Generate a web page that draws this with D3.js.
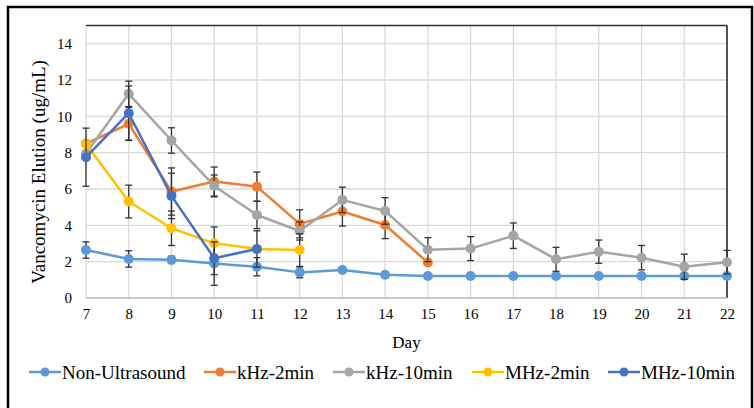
<!DOCTYPE html>
<html>
<head>
<meta charset="utf-8">
<script src="https://cdn.jsdelivr.net/npm/d3@7"></script>
<style>
  html, body { margin: 0; padding: 0; background: #fff; }
  svg { display: block; }
  text { font-family: "Liberation Serif", "Times New Roman", serif; fill: #000; }
</style>
</head>
<body>
<svg id="chart" width="754" height="408"></svg>
<script>
// ---- data ----
const days = [7, 8, 9, 10, 11, 12, 13, 14, 15, 16, 17, 18, 19, 20, 21, 22];
const yTicks = [0, 2, 4, 6, 8, 10, 12, 14];
const seriesNames = ["Non-Ultrasound", "kHz-2min", "kHz-10min", "MHz-2min", "MHz-10min"];
const seriesColors = ["#5B9BD5", "#ED7D31", "#A5A5A5", "#FFC000", "#4472C4"];

const nonUltrasound = [2.64, 2.15, 2.1, 1.9, 1.72, 1.41, 1.54, 1.28, 1.21, 1.21, 1.21, 1.21, 1.21, 1.21, 1.21, 1.21];
const nonUltrasoundErr = [0.45, 0.45, 0.2, 1.2, 0.5, 0.3, 0, 0, 0, 0, 0, 0, 0, 0, 0, 0];

const kHz2min = [8.5, 9.59, 5.86, 6.41, 6.13, 4.08, 4.76, 4.02, 1.95];
const kHz2minErr = [0.0, 0.9, 1.3, 0.8, 0.8, 0.77, 0.8, 0.75, 0.0];

const kHz10min = [7.95, 11.24, 8.67, 6.17, 4.57, 3.69, 5.4, 4.79, 2.66, 2.72, 3.43, 2.13, 2.55, 2.22, 1.72, 1.97];
const kHz10minErr = [0.0, 0.7, 0.7, 0.6, 0.75, 0.5, 0.7, 0.73, 0.66, 0.66, 0.7, 0.66, 0.64, 0.67, 0.69, 0.65];

const MHz2min = [8.48, 5.31, 3.84, 3.01, 2.7, 2.64];
const MHz2minErr = [0.0, 0.9, 0.95, 0.9, 0.0, 0.9];

const MHz10min = [7.75, 10.17, 5.62, 2.19, 2.7];
const MHz10minErr = [1.6, 1.5, 1.25, 0.9, 1.0];

const seriesValues = [nonUltrasound, kHz2min, kHz10min, MHz2min, MHz10min];
const seriesErrors = [nonUltrasoundErr, kHz2minErr, kHz10minErr, MHz2minErr, MHz10minErr];

// ---- layout ----
const svg = d3.select("#chart");
const plot = { left: 86, right: 727, top: 25.5, bottom: 298 };

const x = d3.scaleLinear().domain([7, 22]).range([plot.left, plot.right]);
const y = d3.scaleLinear().domain([0, 15]).range([plot.bottom, plot.top]);

// outer frame
svg.append("rect").attr("x", 8).attr("y", 7).attr("width", 744).attr("height", 430)
  .attr("fill", "none").attr("stroke", "#000").attr("stroke-width", 2.5);

// gridlines
const grid = svg.append("g");
grid.selectAll("line.h").data(yTicks).join("line")
  .attr("x1", plot.left).attr("x2", plot.right)
  .attr("y1", d => y(d)).attr("y2", d => y(d))
  .attr("stroke", "#d9d9d9").attr("stroke-width", 1.3);
grid.selectAll("line.v").data(days).join("line")
  .attr("y1", plot.top).attr("y2", plot.bottom)
  .attr("x1", d => x(d)).attr("x2", d => x(d))
  .attr("stroke", "#d9d9d9").attr("stroke-width", 1.3);

// plot border top and right (dark)
svg.append("line").attr("x1", plot.left).attr("x2", plot.right)
  .attr("y1", plot.top).attr("y2", plot.top).attr("stroke", "#333").attr("stroke-width", 1.3);
svg.append("line").attr("x1", plot.right).attr("x2", plot.right)
  .attr("y1", plot.top).attr("y2", plot.bottom).attr("stroke", "#222").attr("stroke-width", 1.5);
// bottom axis line
svg.append("line").attr("x1", plot.left).attr("x2", plot.right)
  .attr("y1", plot.bottom).attr("y2", plot.bottom).attr("stroke", "#bfbfbf").attr("stroke-width", 1.3);

// axes (labels only)
const yAxis = d3.axisLeft(y).tickValues(yTicks).tickSize(0).tickPadding(14);
const gy = svg.append("g").attr("transform", `translate(${plot.left},0)`).call(yAxis);
gy.select(".domain").remove();
gy.selectAll("text").style("font-size", "15px").style("font-family", "Liberation Serif");

const xAxis = d3.axisBottom(x).tickValues(days).tickFormat(d3.format("d")).tickSize(0).tickPadding(10);
const gx = svg.append("g").attr("transform", `translate(0,${plot.bottom})`).call(xAxis);
gx.select(".domain").remove();
gx.selectAll("text").style("font-size", "15px").style("font-family", "Liberation Serif");

// axis titles
svg.append("text").attr("transform", "translate(45,172) rotate(-90)")
  .attr("text-anchor", "middle").style("font-size", "19px").text("Vancomycin Elution (ug/mL)");
svg.append("text").attr("x", (plot.left + plot.right) / 2).attr("y", 348)
  .attr("text-anchor", "middle").style("font-size", "17px").text("Day");

// series
const line = d3.line().x(d => x(d.day)).y(d => y(d.v));
seriesNames.forEach((name, i) => {
  const pts = seriesValues[i].map((v, j) => ({ day: days[j], v, e: seriesErrors[i][j] }));
  const g = svg.append("g");
  g.append("path").datum(pts).attr("d", line).attr("fill", "none")
    .attr("stroke", seriesColors[i]).attr("stroke-width", 2.5).attr("stroke-linejoin", "round");
  const eb = pts.filter(p => p.e > 0);
  const cap = 3.5;
  g.selectAll("line.eb").data(eb).join("line")
    .attr("x1", d => x(d.day)).attr("x2", d => x(d.day))
    .attr("y1", d => y(d.v - d.e)).attr("y2", d => y(d.v + d.e))
    .attr("stroke", "#333").attr("stroke-width", 1.3);
  g.selectAll("line.ct").data(eb).join("line")
    .attr("x1", d => x(d.day) - cap).attr("x2", d => x(d.day) + cap)
    .attr("y1", d => y(d.v + d.e)).attr("y2", d => y(d.v + d.e))
    .attr("stroke", "#333").attr("stroke-width", 1.3);
  g.selectAll("line.cb").data(eb).join("line")
    .attr("x1", d => x(d.day) - cap).attr("x2", d => x(d.day) + cap)
    .attr("y1", d => y(d.v - d.e)).attr("y2", d => y(d.v - d.e))
    .attr("stroke", "#333").attr("stroke-width", 1.3);
  g.selectAll("circle").data(pts).join("circle")
    .attr("cx", d => x(d.day)).attr("cy", d => y(d.v)).attr("r", 5)
    .attr("fill", seriesColors[i]);
});

// legend
const legendX = [29, 204, 333, 472, 608];
const lg = svg.append("g").attr("transform", "translate(0,372)");
seriesNames.forEach((name, i) => {
  const g = lg.append("g").attr("transform", `translate(${legendX[i]},0)`);
  g.append("line").attr("x1", 0).attr("x2", 32).attr("y1", 0).attr("y2", 0)
    .attr("stroke", seriesColors[i]).attr("stroke-width", 2.5);
  g.append("circle").attr("cx", 16).attr("cy", 0).attr("r", 4.5).attr("fill", seriesColors[i]);
  g.append("text").attr("x", 33).attr("y", 6.5).style("font-size", "19px").text(name);
});
</script>
</body>
</html>
